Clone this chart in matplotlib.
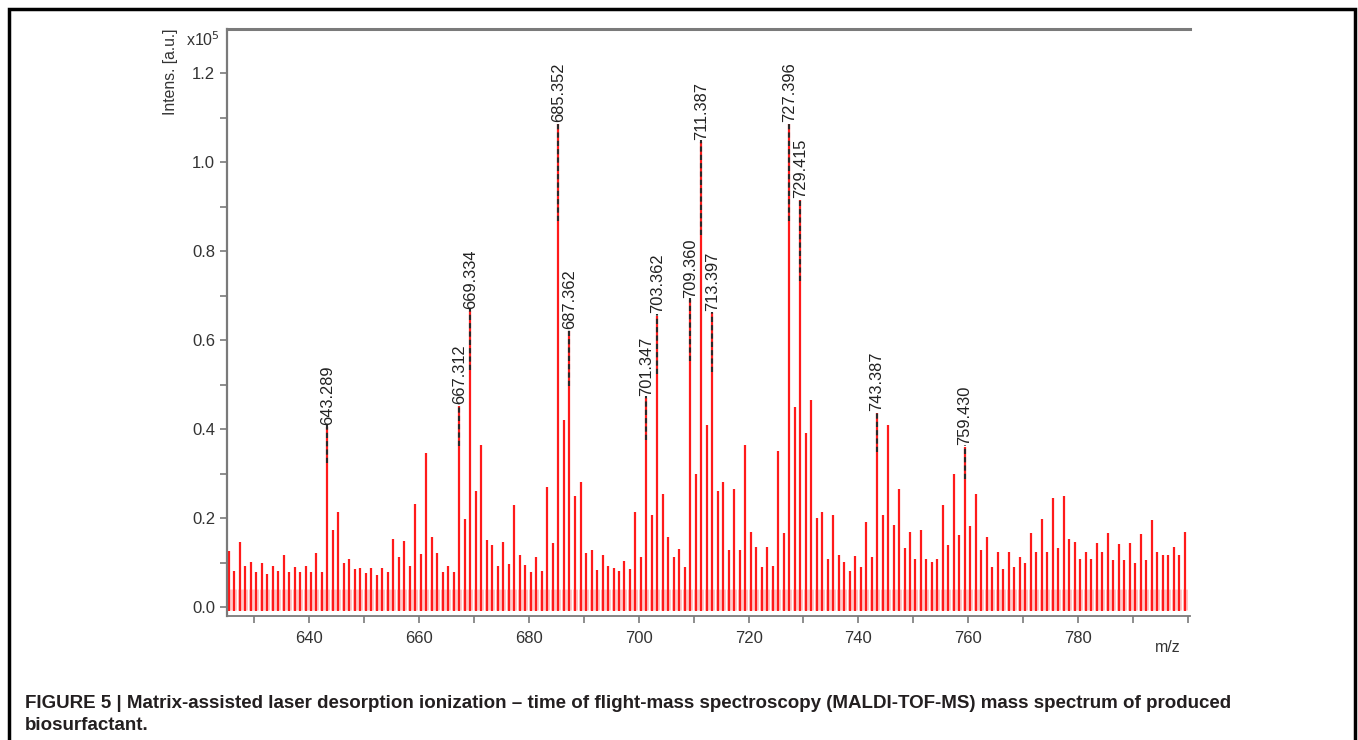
import numpy as np
import matplotlib
matplotlib.use("Agg")
import matplotlib.pyplot as plt
from matplotlib.patches import Rectangle
from matplotlib.ticker import MultipleLocator

plt.rcParams['font.family'] = ['Liberation Sans', 'DejaVu Sans']

# centroid m/z of every peak in the window (one per nominal mass)
mz = [
    625.3, 626.3, 627.3, 628.3, 629.3, 630.3, 631.3, 632.3, 633.3, 634.3,
    635.3, 636.3, 637.3, 638.3, 639.3, 640.3, 641.3, 642.3, 643.289, 644.3,
    645.3, 646.3, 647.3, 648.3, 649.3, 650.3, 651.3, 652.3, 653.3, 654.3,
    655.3, 656.3, 657.3, 658.3, 659.3, 660.3, 661.3, 662.3, 663.3, 664.3,
    665.3, 666.3, 667.312, 668.3, 669.334, 670.3, 671.3, 672.3, 673.3, 674.3,
    675.3, 676.3, 677.3, 678.3, 679.3, 680.3, 681.3, 682.3, 683.3, 684.3,
    685.352, 686.4, 687.362, 688.4, 689.4, 690.4, 691.4, 692.4, 693.4, 694.4,
    695.4, 696.4, 697.4, 698.4, 699.4, 700.4, 701.347, 702.4, 703.362, 704.4,
    705.4, 706.4, 707.4, 708.4, 709.360, 710.4, 711.387, 712.4, 713.397, 714.4,
    715.4, 716.4, 717.4, 718.4, 719.4, 720.4, 721.4, 722.4, 723.4, 724.4,
    725.4, 726.4, 727.396, 728.4, 729.415, 730.4, 731.4, 732.4, 733.4, 734.4,
    735.4, 736.4, 737.4, 738.4, 739.4, 740.4, 741.4, 742.4, 743.387, 744.4,
    745.4, 746.4, 747.4, 748.4, 749.4, 750.4, 751.4, 752.4, 753.4, 754.4,
    755.4, 756.4, 757.4, 758.4, 759.430, 760.4, 761.4, 762.4, 763.4, 764.4,
    765.4, 766.4, 767.4, 768.4, 769.4, 770.4, 771.4, 772.4, 773.4, 774.4,
    775.4, 776.4, 777.4, 778.4, 779.4, 780.4, 781.4, 782.4, 783.4, 784.4,
    785.4, 786.4, 787.4, 788.4, 789.4, 790.4, 791.4, 792.4, 793.4, 794.4,
    795.4, 796.4, 797.4, 798.4, 799.4,
]

# intensity, x10^5 a.u.
intens = [
    0.126, 0.082, 0.147, 0.093, 0.102, 0.078, 0.098, 0.074, 0.092, 0.082,
    0.116, 0.078, 0.091, 0.078, 0.092, 0.078, 0.121, 0.079, 0.405, 0.173,
    0.214, 0.100, 0.108, 0.085, 0.087, 0.076, 0.087, 0.072, 0.087, 0.078,
    0.152, 0.112, 0.149, 0.093, 0.231, 0.119, 0.345, 0.158, 0.122, 0.078,
    0.092, 0.078, 0.452, 0.198, 0.665, 0.260, 0.365, 0.150, 0.139, 0.092,
    0.145, 0.097, 0.229, 0.117, 0.094, 0.079, 0.112, 0.082, 0.270, 0.143,
    1.085, 0.420, 0.620, 0.250, 0.280, 0.121, 0.128, 0.083, 0.117, 0.093,
    0.087, 0.082, 0.104, 0.085, 0.214, 0.112, 0.470, 0.207, 0.655, 0.255,
    0.158, 0.112, 0.130, 0.091, 0.690, 0.300, 1.045, 0.410, 0.660, 0.260,
    0.280, 0.128, 0.265, 0.128, 0.365, 0.169, 0.134, 0.091, 0.134, 0.092,
    0.350, 0.166, 1.085, 0.450, 0.915, 0.390, 0.465, 0.200, 0.214, 0.109,
    0.207, 0.117, 0.102, 0.082, 0.115, 0.089, 0.192, 0.113, 0.435, 0.207,
    0.410, 0.184, 0.265, 0.132, 0.169, 0.107, 0.173, 0.109, 0.102, 0.107,
    0.229, 0.139, 0.300, 0.162, 0.360, 0.182, 0.255, 0.128, 0.157, 0.091,
    0.124, 0.085, 0.124, 0.091, 0.112, 0.100, 0.167, 0.123, 0.197, 0.124,
    0.245, 0.132, 0.250, 0.152, 0.147, 0.109, 0.123, 0.109, 0.143, 0.123,
    0.167, 0.106, 0.142, 0.106, 0.143, 0.098, 0.164, 0.106, 0.196, 0.124,
    0.117, 0.117, 0.134, 0.117, 0.168,
]

# annotated peaks
label_mz = [643.289, 667.312, 669.334, 685.352, 687.362, 701.347, 703.362,
            709.360, 711.387, 713.397, 727.396, 729.415, 743.387, 759.430]

mz = np.array(mz)
intens = np.array(intens)

fig = plt.figure(figsize=(13.58, 7.40), dpi=100)
ax = fig.add_axes([227 / 1358, 1 - 616 / 740, (1190 - 227) / 1358, (616 - 29) / 740])

red = '#ff1a1a'
# light wings at the foot of every peak
ax.vlines(mz, -0.006, np.minimum(intens, 0.04), color='#ffc6c6', lw=3.5)
ax.vlines(mz, -0.009, intens, color=red, lw=1.6)

for m in label_mz:
    h = intens[np.argmin(np.abs(mz - m))]
    ax.vlines(m, 0.8 * h, h + 0.004, color='#2a2a2a', lw=1.5, linestyles=(0, (2.5, 1.5)))
    ax.text(m, h + 0.005, '%.3f' % m, rotation=90, ha='center', va='bottom',
            fontsize=11.8, color='#222222')

ax.set_xlim(625.0, 800.4)
ax.set_ylim(-0.0202, 1.299)
ax.xaxis.set_major_locator(MultipleLocator(20))
ax.xaxis.set_minor_locator(MultipleLocator(10))
ax.yaxis.set_major_locator(MultipleLocator(0.2))
ax.yaxis.set_minor_locator(MultipleLocator(0.1))
ax.yaxis.set_major_formatter(lambda v, p: '%.1f' % v)
ax.set_xticks([640, 660, 680, 700, 720, 740, 760, 780])

gray = '#7a7a7a'
ax.spines['right'].set_visible(False)
ax.spines['left'].set_color(gray)
ax.spines['left'].set_linewidth(1.6)
ax.spines['bottom'].set_color(gray)
ax.spines['bottom'].set_linewidth(1.3)
ax.spines['top'].set_color(gray)
ax.spines['top'].set_linewidth(2.2)
ax.tick_params(which='both', direction='out', length=5, width=1.2, color=gray,
               labelsize=12, labelcolor='#333333')
ax.tick_params(axis='x', which='both', pad=6)

fig.text(1168 / 1358, 1 - 648 / 740, 'm/z', fontsize=11.5, color='#333333',
         ha='center', va='center')
fig.text(170 / 1358, 1 - 72 / 740, 'Intens. [a.u.]', rotation=90, fontsize=11.3,
         color='#333333', ha='center', va='center')
fig.text(203 / 1358, 1 - 40 / 740, 'x10$^5$', fontsize=11.5, color='#333333',
         ha='center', va='center')

fig.text(25 / 1358, 1 - 703 / 740,
         'FIGURE 5 | Matrix-assisted laser desorption ionization \u2013 time of flight-mass '
         'spectroscopy (MALDI-TOF-MS) mass spectrum of produced',
         fontsize=13.5, fontweight='bold', color='#231f20', ha='left', va='center')
fig.text(25 / 1358, 1 - 726 / 740, 'biosurfactant.',
         fontsize=13.5, fontweight='bold', color='#231f20', ha='left', va='center')

fig.patches.append(Rectangle((9 / 1358, -0.05), (1355 - 9) / 1358, 1.05 - 9 / 740,
                             transform=fig.transFigure, fill=False, lw=2.5,
                             edgecolor='black'))

fig.savefig('out.png', dpi=100)
